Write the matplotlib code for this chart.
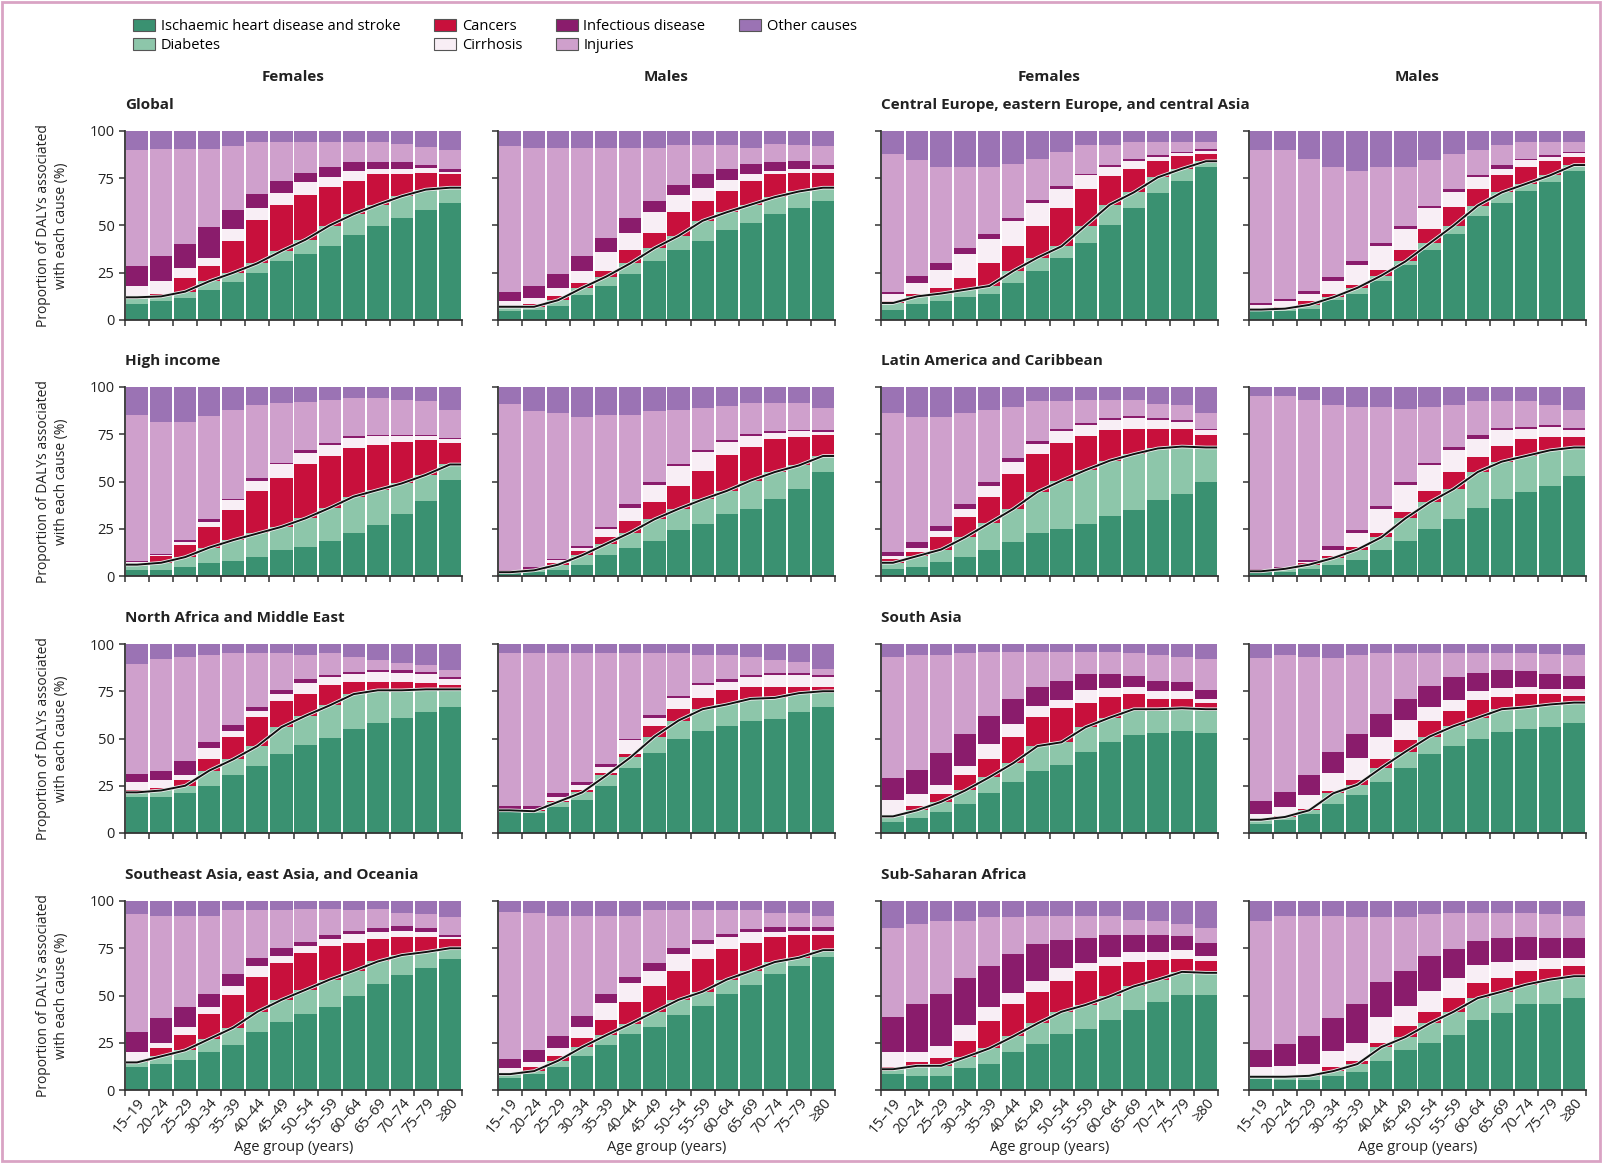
import numpy as np
import matplotlib
matplotlib.use("Agg")
import matplotlib.pyplot as plt
from matplotlib.patches import Patch, Rectangle

plt.rcParams['font.family'] = ['Liberation Sans Narrow', 'Open Sans', 'DejaVu Sans']

age_groups = ["15–19", "20–24", "25–29", "30–34", "35–39", "40–44", "45–49",
              "50–54", "55–59", "60–64", "65–69", "70–74", "75–79", "≥80"]
causes = ["Ischaemic heart disease and stroke", "Diabetes", "Cancers", "Cirrhosis",
          "Infectious disease", "Injuries", "Other causes"]
colors = ["#3a9171", "#8dc6aa", "#c8103c", "#f8eef5", "#8a1c6c", "#cfa0cc", "#9b73b4"]

regions = ["Global", "Central Europe, eastern Europe, and central Asia",
           "High income", "Latin America and Caribbean",
           "North Africa and Middle East", "South Asia",
           "Southeast Asia, east Asia, and Oceania", "Sub-Saharan Africa"]

# Cumulative upper boundary (%) of each band, bottom to top:
# IHD+stroke, +diabetes, +cancers, +cirrhosis, +infectious, +injuries (other causes fill to 100)
global_f = [[8.5, 10, 11.5, 16, 20, 25, 31, 35, 39, 45, 50, 54, 58, 62],
            [12, 12.5, 15, 20.5, 25, 30, 36.5, 42.5, 50, 56, 61, 65.5, 69, 70],
            [12.5, 14, 22, 28.5, 42, 53, 61, 66, 70.5, 73.5, 77, 77, 78, 77],
            [18, 20.5, 27.5, 33, 48, 59.5, 67, 73, 75.5, 79, 80, 80, 80.5, 78.5],
            [28.5, 34, 40, 49, 58, 66.5, 73.5, 78, 81, 83.5, 83.5, 83.5, 82, 80],
            [89.7, 90.5, 90.5, 90.5, 92, 94, 94, 94, 94, 94, 94, 93, 91.5, 89.7]]
global_m = [[4.5, 5.5, 7.5, 13, 18, 24.5, 31, 37, 42, 47.5, 51.5, 56, 59, 63],
            [7, 7, 10.5, 17, 23, 30, 38, 44.5, 52.5, 57, 61, 65, 68, 70],
            [7.5, 8.5, 12.5, 19.5, 26, 37, 46, 57, 63, 68.5, 73.5, 77, 78, 78],
            [10, 11.5, 17, 26, 36, 46, 57, 66, 70, 74, 77, 79, 80, 80],
            [15, 18, 24.5, 34, 43.5, 54, 63, 71.5, 77, 80, 82.5, 83.5, 84, 82],
            [92, 91, 91, 91, 91, 91, 91, 92.5, 92.5, 92.5, 91, 93, 92.5, 92]]
ceeca_f = [[5.5, 8.5, 10, 12, 14, 19.5, 26, 33, 40.5, 50.5, 59, 67, 73.5, 81],
           [9, 12.5, 14, 16, 18, 26, 33, 39, 50, 61, 67.5, 75.5, 80, 84],
           [10, 14, 17, 22, 30, 39, 50, 59.5, 69.5, 76, 80, 84, 87, 88],
           [13.5, 19.5, 26.5, 35, 43, 52.5, 62, 69.5, 76.5, 81, 84, 86.5, 88.5, 89.5],
           [15, 23.5, 30, 38, 45.5, 54, 63.5, 71, 77, 82, 85, 87.5, 89, 90.5],
           [88, 84.5, 81, 81, 81, 82.5, 85, 89, 92.5, 92.5, 94, 94, 94, 94]]
ceeca_m = [[4.5, 5, 6, 10.5, 14, 20.5, 29, 37, 45.5, 55, 62, 68.5, 73, 79],
           [5.5, 6, 8, 12, 17, 23.5, 31, 40.5, 50, 60.5, 67.5, 72, 76.5, 82],
           [6, 7, 10, 13.5, 18.5, 26.5, 37, 48, 60, 69.5, 76.5, 81, 84, 86],
           [8, 10, 13.5, 20.5, 29, 39, 48, 59.5, 67.5, 75.5, 80, 84.5, 86.5, 88.5],
           [9, 11, 15.5, 23, 31, 40.5, 50, 60.5, 69.5, 76.5, 82, 85, 87.5, 89],
           [90, 89.7, 85, 81, 79, 81, 81, 84.5, 88, 89.7, 92.5, 94, 94, 94]]
hi_f = [[3, 3, 5, 7, 8, 10, 13.5, 15.5, 18.5, 23, 27, 33, 39.5, 51],
        [6, 7, 10, 15, 19, 22.5, 26, 30.5, 36, 42, 45.5, 49, 53.5, 59],
        [7, 10.5, 16.5, 26, 35, 45, 52, 59.5, 63.5, 67.5, 69.5, 71, 72, 70.5],
        [7.2, 11, 18, 28.5, 40, 50.5, 59, 65, 69.5, 73, 74, 74, 74, 72.5],
        [8, 11.5, 19, 30, 41, 52, 60, 66.5, 70.5, 74, 74.5, 74.5, 74.5, 73],
        [85, 81.5, 81.5, 84.5, 88, 90.5, 91.5, 92, 93, 94, 94, 93, 92.5, 88]]
hi_m = [[1.5, 2, 3, 6, 11, 15, 18.5, 24.5, 27.5, 33, 35.5, 40.5, 46, 55],
        [2, 3, 6, 11, 17, 23, 30, 35.5, 40.5, 45, 50.5, 55, 58.5, 63.5],
        [2.3, 3.5, 6.8, 13, 20.5, 29, 39, 47.5, 55.5, 64, 68.5, 72.5, 73.5, 74.5],
        [2.5, 3.8, 8.5, 15, 25, 36, 48, 58, 65.5, 71, 74, 75.5, 76.5, 76],
        [3, 4.5, 9, 16, 26, 38, 49.5, 59.5, 66.5, 72, 75, 76.5, 77.5, 77],
        [91, 87.5, 86, 84, 85, 85, 87.5, 88, 89, 90, 91.5, 91.5, 91.5, 89]]
lac_f = [[3.5, 5, 7.5, 10, 14, 18, 22.5, 25, 27.5, 32, 35, 40, 43.5, 49.5],
         [7, 10.5, 14, 20.5, 28, 35.5, 44.5, 50.5, 56, 61, 64.5, 67.5, 68.5, 68],
         [9, 12.5, 20.5, 31, 42, 54, 64.5, 70.5, 74, 77, 78, 78, 78, 74.5],
         [10.5, 15, 24, 35.5, 47.5, 60.5, 70, 76.5, 80, 82.5, 83.5, 82.5, 81.5, 77],
         [12.5, 18, 26.5, 38, 49.5, 62.5, 71.5, 78, 81, 83.5, 84.5, 83.5, 82.5, 78],
         [86.5, 84, 84, 86, 88, 89.5, 92.5, 92.5, 93, 93, 93, 91, 90.5, 86.5]]
lac_m = [[2, 2.3, 3.8, 6, 8.5, 13.5, 18.5, 25, 30, 36, 40.5, 44.5, 47.5, 53],
         [2.5, 3.8, 6, 9.5, 14, 20.5, 30.5, 39, 46, 55, 60.5, 63.5, 66.5, 68],
         [2.7, 4.2, 7, 10.5, 15.5, 23, 34, 45, 55, 63, 69, 72.5, 73.5, 73.5],
         [2.8, 4.3, 7.5, 14, 23, 35.5, 48, 58.5, 66.5, 72.5, 77, 78, 79, 77],
         [3.8, 5, 8.5, 16, 24.5, 37, 49.5, 60, 68.5, 74.5, 78.5, 79, 80, 78.5],
         [95, 95, 93, 90.5, 89.5, 89.5, 88.5, 89.5, 90.5, 92.5, 92.5, 92.5, 90.5, 88]]
name_f = [[19, 19, 21, 25, 30.5, 35.5, 42, 46.5, 50.5, 55, 58, 61, 64, 66.5],
          [21.5, 22.5, 25, 33, 39, 46, 56, 62, 67.5, 73.5, 75.5, 75.5, 76, 76],
          [22.5, 24, 28, 39, 51, 61.5, 70, 73.5, 78.5, 80, 80, 80, 79.5, 78.5],
          [27, 28, 30.5, 45, 54, 64.5, 73.5, 79.5, 82.5, 84, 85, 84.5, 84, 81.5],
          [31, 33, 38, 48, 57, 66.5, 75.5, 81.5, 83.5, 85, 86, 86, 85, 82.5],
          [89.5, 92, 93, 94, 95, 95, 95, 94, 95, 93, 91.5, 90, 89, 86]]
name_m = [[11, 10.5, 13.7, 17.5, 25, 34.5, 42.5, 50, 54, 56.5, 59.5, 60.5, 64, 66.5],
          [12, 11.5, 16.5, 21.5, 30.5, 40, 51, 59.5, 65.5, 68, 71, 71.5, 74, 75],
          [12.3, 12, 17, 23, 32, 42, 56.5, 65.5, 71.5, 75.5, 77, 77, 77.5, 77],
          [12.8, 12.7, 19, 25.5, 35, 49, 61, 71.5, 78.5, 80, 82.5, 83.5, 83.5, 82.5],
          [14.5, 14.5, 21, 27, 36.5, 50, 62.5, 72.5, 79.5, 81.5, 83.5, 84.5, 84.5, 83.5],
          [95.5, 95.5, 95, 95, 95, 95, 95, 95, 94, 94, 93, 91.5, 90.5, 87]]
sa_f = [[5.8, 8, 11, 15.5, 21, 27, 33, 36, 43, 48, 52, 53, 54, 53],
        [8.8, 12, 16.5, 22.5, 29.5, 37, 46, 48, 56, 61, 65.5, 65.5, 66, 65.5],
        [9.2, 14.5, 20.5, 30.5, 39, 51, 61.5, 66, 69, 72, 73.5, 71, 71, 69],
        [17.3, 20.5, 25.5, 35.5, 47, 57.5, 67, 70.5, 75.5, 76.5, 77.5, 75, 75, 71],
        [29, 33.5, 42.5, 52.5, 62, 71, 77.5, 80.5, 84, 84, 83, 80.5, 80, 75.5],
        [93, 94, 94, 95.5, 96, 96, 96, 96, 96, 96, 95, 94, 93, 92]]
sa_m = [[4.5, 7, 10, 15.5, 20, 27, 34.5, 42, 46, 50, 53.5, 55, 56, 58],
        [7, 8.5, 12, 21, 25.5, 34.5, 43, 51, 56.5, 61, 65.5, 66.5, 68, 69],
        [7.2, 9, 12.5, 22, 28, 39, 49, 59, 64.5, 70.5, 72, 73.5, 73.5, 72.5],
        [10, 13.5, 20, 31.5, 39.5, 51, 60, 66.5, 70.5, 75, 76.5, 77, 76, 76],
        [17, 21.5, 30.5, 43, 52.5, 63, 71, 78, 82.5, 84.5, 86, 85.5, 84, 83],
        [92.5, 94, 93, 92.5, 94, 95, 95, 95.5, 95.5, 95.5, 95, 95, 94.5, 94]]
sea_f = [[12, 13.7, 16, 20, 24, 30.7, 36, 40, 44, 49.5, 56, 61, 64.3, 69.5],
         [14.6, 17.8, 21, 27, 33, 41.4, 47.7, 53, 58.4, 63, 68, 71.4, 73, 75],
         [15.5, 22, 29, 40, 50.3, 60, 67, 72.7, 76, 78, 80, 81, 81, 80],
         [20, 25, 33.5, 44, 55, 65.5, 71, 76, 80, 82.5, 83.4, 84.3, 83.4, 81],
         [30.7, 38, 44, 50.7, 61.4, 70, 75, 78.5, 82, 84.3, 85.5, 87, 85.5, 82],
         [93, 92.3, 92.3, 92.3, 95, 95, 95, 96, 96, 95, 96, 93.5, 93.2, 91.4]]
sea_m = [[6.6, 8.4, 12, 17.8, 23.6, 29.8, 33.4, 39.6, 44.5, 50.7, 55.7, 61.4, 65.5, 70.4],
         [8.4, 10, 15.5, 22.7, 29, 35, 41.4, 47.7, 52, 58.4, 63, 67.7, 70, 74],
         [9, 12.3, 18, 27.5, 37, 46.8, 54.8, 63, 69.5, 74.6, 77.7, 81, 82, 82],
         [11.6, 14.6, 22, 33.4, 46, 56.6, 63, 72, 77, 80.7, 83.4, 83.8, 84.3, 84.3],
         [16.4, 21.4, 28.6, 39.3, 50.7, 60, 67, 75, 79.3, 82.8, 85, 86.4, 86, 86.4],
         [94, 93.5, 92.3, 92.3, 92.3, 92.3, 95, 95, 95, 95, 95, 93.5, 93.5, 91.8]]
ssa_f = [[8.4, 7.5, 7.5, 11.4, 13.7, 20, 24.5, 29.5, 32.5, 37, 42.3, 46.4, 50.4, 50.4],
         [11, 12.8, 12.8, 17.3, 22, 28.4, 35.2, 41.4, 45, 49.5, 54.8, 58.4, 62.5, 62],
         [12, 14.6, 16.8, 26, 36.4, 45.4, 51.6, 57.5, 62.8, 65.5, 67.9, 68.6, 69.5, 68.2],
         [20, 20.3, 23.2, 34.3, 44, 51.3, 57.8, 64.6, 67.3, 70.4, 73, 73, 74, 71],
         [38.8, 45.4, 50.7, 59.3, 65.5, 71.8, 77, 79.3, 80.4, 82.1, 82.1, 82.1, 81.6, 77.7],
         [85.7, 87.8, 89.6, 89.6, 91.4, 91.4, 91.8, 91.8, 91.8, 91.8, 90, 89.3, 87.8, 85.5]]
ssa_m = [[5.7, 5.4, 5.4, 7.5, 9.3, 15.5, 21, 24.8, 29.3, 37, 40.7, 45.4, 45.4, 48.6],
         [7, 7, 7.5, 10, 13.7, 22.7, 28, 35.2, 41.4, 48.6, 52, 55.7, 58.4, 60.2],
         [7.1, 7.1, 7.9, 12, 15.5, 25, 33.6, 41.4, 48.6, 56.6, 59.3, 62.8, 63.8, 65.5],
         [12, 12.8, 13.7, 20.7, 25, 38.8, 44.3, 52.5, 59, 66.4, 67.9, 68.6, 70, 70],
         [21.2, 24.5, 28.6, 37.9, 45.4, 57, 63, 70.9, 74.5, 78.9, 80.4, 80.7, 80.4, 80.4],
         [89.6, 92.3, 92.3, 92.3, 91.4, 91.4, 91.4, 93, 93.5, 93.5, 93.5, 93.5, 93.2, 92.3]]

panel_data = [(global_f, global_m), (ceeca_f, ceeca_m), (hi_f, hi_m), (lac_f, lac_m),
              (name_f, name_m), (sa_f, sa_m), (sea_f, sea_m), (ssa_f, ssa_m)]

W, H = 1602, 1163
fig = plt.figure(figsize=(W / 100, H / 100), dpi=100)

col_lefts = [125, 498, 881, 1249]
ax_w = 337
row_tops = [131, 387, 644, 901]
ax_h = 189

spine_col = "#333333"
x = np.arange(len(age_groups))
n = len(age_groups)

for r in range(4):
    for c in range(4):
        pair = c // 2
        sex = c % 2
        reg_idx = 2 * r + pair
        data = np.array(panel_data[reg_idx][sex], dtype=float)
        cum = np.vstack([np.zeros(n), data, np.full(n, 100.0)])
        heights = np.diff(cum, axis=0)
        left = col_lefts[c] / W
        bottom = 1 - (row_tops[r] + ax_h) / H
        ax = fig.add_axes([left, bottom, ax_w / W, ax_h / H])
        for k in range(7):
            ax.bar(x, heights[k], bottom=cum[k], width=0.92, color=colors[k], linewidth=0)
        line_y = data[1]
        lx = np.r_[x[0] - 0.46, x, x[-1] + 0.46]
        ly = np.r_[line_y[0], line_y, line_y[-1]]
        ax.plot(lx, ly, color="#eeeeee", lw=2.6, solid_capstyle="butt", zorder=3)
        ax.plot(lx, ly, color="#111111", lw=1.4, solid_capstyle="butt", zorder=4)
        ax.set_xlim(-0.5, n - 0.5)
        ax.set_ylim(0, 100)
        for s in ["top", "right"]:
            ax.spines[s].set_visible(False)
        for s in ["left", "bottom"]:
            ax.spines[s].set_color(spine_col)
            ax.spines[s].set_linewidth(1.3)
        ax.set_xticks(np.arange(n + 1) - 0.5)
        ax.set_xticklabels([])
        ax.set_yticks([0, 25, 50, 75, 100])
        ax.tick_params(axis="both", which="major", direction="out", length=4,
                       width=1.1, color=spine_col, labelsize=10.5, labelcolor="#222222")
        if c == 0:
            ax.set_yticklabels(["0", "25", "50", "75", "100"])
            ax.set_ylabel("Proportion of DALYs associated\nwith each cause (%)",
                          fontsize=10, color="#222222", linespacing=1.3)
            ax.yaxis.set_label_coords(-0.165, 0.5)
        else:
            ax.set_yticklabels([])
        if r == 3:
            ax.set_xticks(x, minor=True)
            ax.set_xticklabels(age_groups, minor=True, rotation=50, ha="right",
                               va="top", rotation_mode="anchor", fontsize=10.5,
                               color="#222222")
            ax.tick_params(axis="x", which="minor", length=0, pad=4)
            ax.set_xlabel("Age group (years)", fontsize=10.5, color="#222222", labelpad=2)
        if sex == 0:
            ax.text(0.0, 1.135, regions[reg_idx], transform=ax.transAxes,
                    ha="left", va="center", fontsize=11, fontweight="bold",
                    color="#222222")
        if r == 0:
            fig.text((col_lefts[c] + ax_w / 2) / W, 1 - 77 / H,
                     "Females" if sex == 0 else "Males", ha="center", va="center",
                     fontsize=11, fontweight="bold", color="#222222")

# Legend
handles = [Patch(facecolor=colors[k], edgecolor="#555555", linewidth=0.8) for k in range(7)]
fig.legend(handles, causes, ncol=4, loc="upper left", bbox_to_anchor=(0.075, 0.995),
           frameon=False, fontsize=10.5, handlelength=1.5, handleheight=0.9,
           handletextpad=0.4, columnspacing=2.3, labelspacing=0.25)

fig.add_artist(Rectangle((0.0015, 0.002), 0.997, 0.996, transform=fig.transFigure,
                         fill=False, edgecolor="#d9a3c4", linewidth=2))

fig.savefig("out.png", dpi=100, facecolor="white")
